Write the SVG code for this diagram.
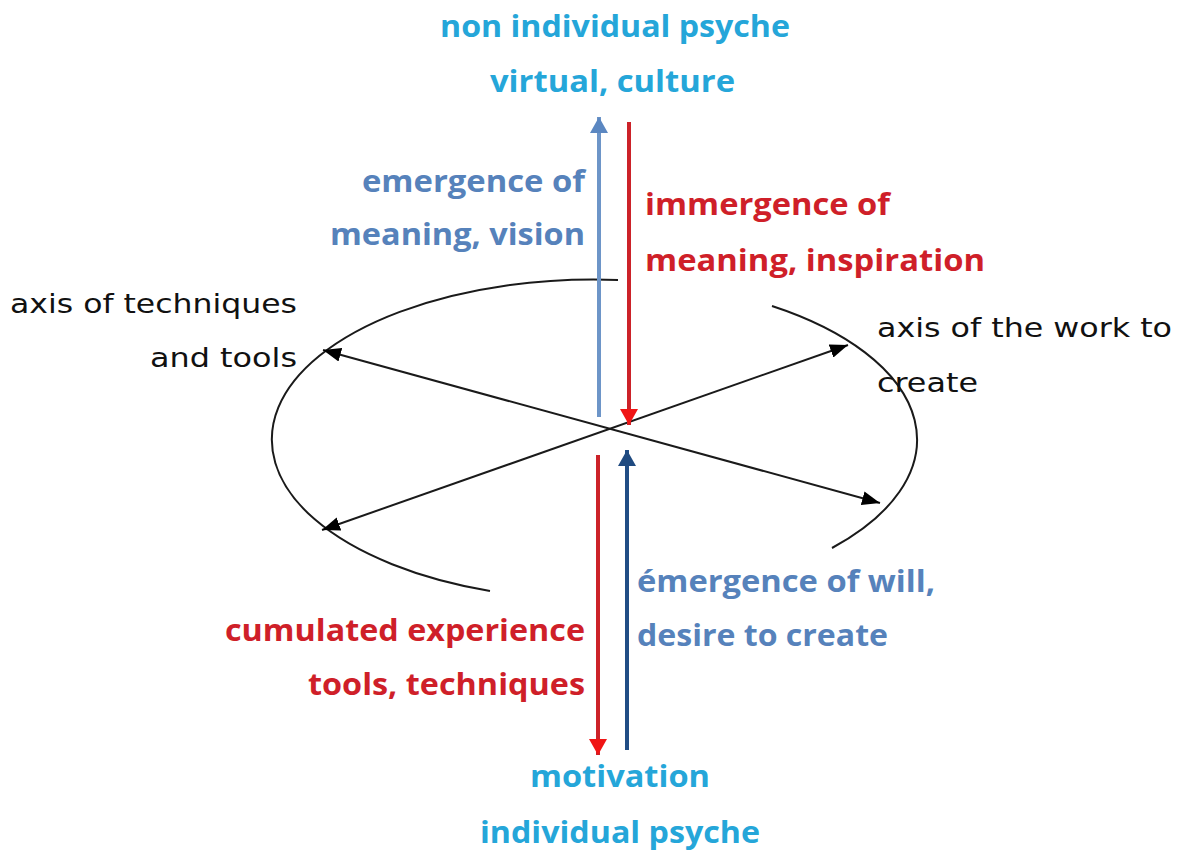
<svg xmlns="http://www.w3.org/2000/svg" width="1179" height="857" viewBox="0 0 1179 857">
<defs>
<style>
.bg{fill:#ffffff}
.b{font-family:"Open Sans","Noto Sans","DejaVu Sans",sans-serif;font-weight:bold;font-size:31px}
.r{font-family:"DejaVu Sans","Open Sans",sans-serif;font-size:27px;fill:#111}
.cy{fill:#25a6d9}
.sb{fill:#5682bb}
.rd{fill:#cf1f29}
.ax{fill:none;stroke:#1a1a1a;stroke-width:2}
.arc{fill:none;stroke:#1a1a1a;stroke-width:2}
.lb{stroke:#6d95c8;stroke-width:4;fill:none}
.red{stroke:#cc2229;stroke-width:4;fill:none}
.db{stroke:#214d85;stroke-width:4;fill:none}
</style>
<marker id="mk" markerUnits="userSpaceOnUse" markerWidth="18" markerHeight="14" refX="18" refY="7" orient="auto-start-reverse"><path d="M0,0 L18,7 L0,14 z" fill="#000"/></marker>
<marker id="mlb" markerUnits="userSpaceOnUse" markerWidth="18" markerHeight="18" refX="16" refY="9" orient="auto"><path d="M0,0 L16,9 L0,18 z" fill="#5b87c1"/></marker>
<marker id="mrd" markerUnits="userSpaceOnUse" markerWidth="18" markerHeight="18" refX="16" refY="9" orient="auto"><path d="M0,0 L16,9 L0,18 z" fill="#f01515"/></marker>
<marker id="mdb" markerUnits="userSpaceOnUse" markerWidth="18" markerHeight="18" refX="16" refY="9" orient="auto"><path d="M0,0 L16,9 L0,18 z" fill="#1f4a80"/></marker>
</defs>
<rect class="bg" x="0" y="0" width="1179" height="857"/>
<g id="ellipse">
<path class="arc" d="M618,280 A322,160 0 0 0 490,591"/>
<path class="arc" d="M772,306 A322,160 0 0 1 832,548"/>
</g>
<g id="connectors">
<line class="ax" x1="323" y1="350" x2="880" y2="503" marker-start="url(#mk)" marker-end="url(#mk)"/>
<line class="ax" x1="322" y1="530" x2="848" y2="345" marker-start="url(#mk)" marker-end="url(#mk)"/>
<line class="lb" x1="599" y1="417" x2="599" y2="117" marker-end="url(#mlb)"/>
<line class="red" x1="629" y1="122" x2="629" y2="425" marker-end="url(#mrd)"/>
<line class="red" x1="598" y1="455" x2="598" y2="755" marker-end="url(#mrd)"/>
<line class="db" x1="627" y1="750" x2="627" y2="450" marker-end="url(#mdb)"/>
</g>
<g id="top-label">
<text class="b cy" x="440" y="37" textLength="350" lengthAdjust="spacingAndGlyphs">non individual psyche</text>
<text class="b cy" x="490" y="92" textLength="245" lengthAdjust="spacingAndGlyphs">virtual, culture</text>
</g>
<g id="emergence-meaning">
<text class="b sb" x="362" y="192" textLength="223" lengthAdjust="spacingAndGlyphs">emergence of</text>
<text class="b sb" x="330" y="245" textLength="255" lengthAdjust="spacingAndGlyphs">meaning, vision</text>
</g>
<g id="immergence-meaning">
<text class="b rd" x="645" y="215" textLength="245" lengthAdjust="spacingAndGlyphs">immergence of</text>
<text class="b rd" x="645" y="271" textLength="340" lengthAdjust="spacingAndGlyphs">meaning, inspiration</text>
</g>
<g id="axis-techniques">
<text class="r" x="10" y="313" textLength="287" lengthAdjust="spacingAndGlyphs">axis of techniques</text>
<text class="r" x="150" y="367" textLength="147" lengthAdjust="spacingAndGlyphs">and tools</text>
</g>
<g id="axis-work">
<text class="r" x="877" y="337" textLength="295" lengthAdjust="spacingAndGlyphs">axis of the work to</text>
<text class="r" x="877" y="392" textLength="101" lengthAdjust="spacingAndGlyphs">create</text>
</g>
<g id="emergence-will">
<text class="b sb" x="637" y="592" textLength="298" lengthAdjust="spacingAndGlyphs">émergence of will,</text>
<text class="b sb" x="637" y="646" textLength="251" lengthAdjust="spacingAndGlyphs">desire to create</text>
</g>
<g id="cumulated-experience">
<text class="b rd" x="225" y="641" textLength="360" lengthAdjust="spacingAndGlyphs">cumulated experience</text>
<text class="b rd" x="308" y="695" textLength="277" lengthAdjust="spacingAndGlyphs">tools, techniques</text>
</g>
<g id="bottom-label">
<text class="b cy" x="530" y="787" textLength="180" lengthAdjust="spacingAndGlyphs">motivation</text>
<text class="b cy" x="480" y="843" textLength="280" lengthAdjust="spacingAndGlyphs">individual psyche</text>
</g>
</svg>
